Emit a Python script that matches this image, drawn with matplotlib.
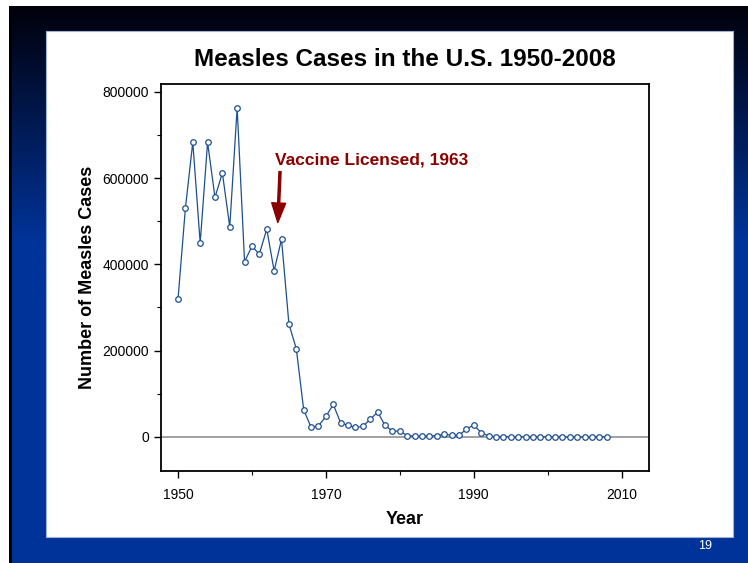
import numpy as np
import matplotlib.pyplot as plt
from matplotlib.patches import Rectangle
from matplotlib.ticker import FixedLocator, MultipleLocator

plt.rcParams['font.family'] = ['Liberation Sans', 'DejaVu Sans']

# reported measles cases per year
years = list(range(1950, 2009))
cases = [319124, 530118, 683077, 449465, 682720, 555156, 611936, 486799,
         763094, 406162, 441703, 423919, 481530, 385156, 458083, 261904,
         204136, 62705, 22231, 25826, 47351, 75290, 32275, 26690,
         22094, 24374, 41126, 57345, 26871, 13597, 13506, 3124,
         1714, 1497, 2587, 2822, 6282, 3655, 3396, 18193,
         27786, 9643, 2237, 312, 963, 309, 508, 138,
         100, 100, 86, 116, 44, 56, 37, 66,
         55, 43, 140]
x_major = [1950, 1970, 1990, 2010]
x_minor = [1960, 1980, 2000]

vaccine_year = 1963
vaccine_label = 'Vaccine Licensed, 1963'

W, H = 748, 563
fig = plt.figure(figsize=(W / 100, H / 100), dpi=100, facecolor='white')

# slide background
bg = fig.add_axes([0, 0, 1, 1])
bg.set_xlim(0, W)
bg.set_ylim(H, 0)
bg.axis('off')
grad = np.clip(np.linspace(0, 1.25, 300), 0, 1)[:, None]
top = np.array([0.0, 0.0, 0.04])
blue = np.array([0.0, 0.2, 0.6])
img = top + grad[..., None] * (blue - top)
bg.imshow(np.repeat(img, 2, axis=1), extent=(9, W, 300, 6), aspect='auto')
bg.add_patch(Rectangle((9, 300), W - 9, H - 300, color='#003399', lw=0))
bg.add_patch(Rectangle((9, 6), 3, H - 6, color='black', lw=0))
bg.add_patch(Rectangle((46, 31), 687, 506, facecolor='white',
                       edgecolor='#9fb3d9', lw=0.8))
bg.text(705, 546, '19', color='white', fontsize=9, ha='center', va='center')

# chart
ax = fig.add_axes([161 / W, (H - 471) / H, (649 - 161) / W, (471 - 84) / H])
ax.axhline(0, color='#999999', lw=1.3, zorder=1)
ax.plot(years, cases, color='#1d4f91', lw=0.9, marker='o', ms=4,
        mfc='white', mec='#1d4f91', mew=0.9, zorder=3)

ax.set_xlim(1947.7, 2013.7)
ax.set_ylim(-79000, 818000)
ax.xaxis.set_major_locator(FixedLocator(x_major))
ax.xaxis.set_minor_locator(FixedLocator(x_minor))
ax.yaxis.set_major_locator(MultipleLocator(200000))
ax.yaxis.set_minor_locator(MultipleLocator(100000))
ax.tick_params(which='major', length=5, width=1, labelsize=10, direction='out')
ax.tick_params(axis='x', which='major', pad=7)
ax.tick_params(which='minor', length=3, width=0.8, direction='out')
for s in ax.spines.values():
    s.set_linewidth(1.3)

ax.set_title('Measles Cases in the U.S. 1950-2008', fontsize=17.5,
             fontweight='bold', pad=13)
ax.set_xlabel('Year', fontsize=13, fontweight='bold', labelpad=7)
ax.set_ylabel('Number of Measles Cases', fontsize=13, fontweight='bold',
              labelpad=5)

red = '#8b0000'
ax.text(vaccine_year + 0.1, 642000, vaccine_label, color=red, fontsize=12.5,
        fontweight='bold', ha='left', va='center')
ax.annotate('', xy=(vaccine_year + 0.5, 497000), xytext=(vaccine_year + 0.8, 615000),
            arrowprops=dict(facecolor=red, edgecolor=red, width=1.5,
                            headwidth=10, headlength=14))

fig.savefig('out.png', dpi=100)
